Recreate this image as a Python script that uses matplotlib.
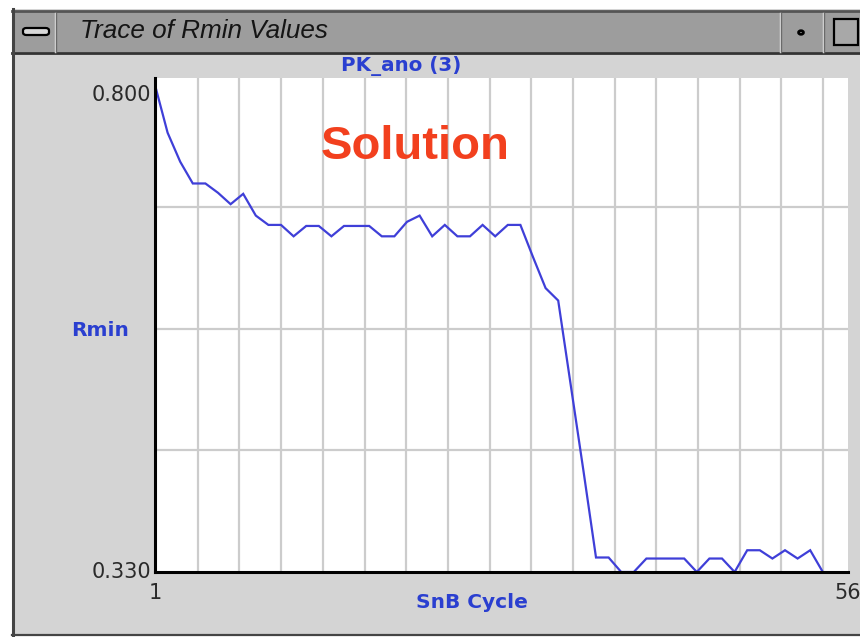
import matplotlib
matplotlib.use("Agg")
import matplotlib.pyplot as plt
from matplotlib.patches import Rectangle, FancyBboxPatch, Circle
from matplotlib.lines import Line2D

# Rmin trace over SnB cycles
cycles = list(range(1, 55))
rmin = [0.800, 0.754, 0.726, 0.705, 0.705, 0.696, 0.685, 0.695, 0.674, 0.665,
        0.665, 0.654, 0.664, 0.664, 0.654, 0.664, 0.664, 0.664, 0.654, 0.654,
        0.668, 0.674, 0.654, 0.665, 0.654, 0.654, 0.665, 0.654, 0.665, 0.665,
        0.634, 0.604, 0.592, 0.510, 0.428, 0.344, 0.344, 0.330, 0.330, 0.343,
        0.343, 0.343, 0.343, 0.330, 0.343, 0.343, 0.330, 0.351, 0.351, 0.343,
        0.351, 0.343, 0.351, 0.330]

y_min, y_max = 0.330, 0.800
x_first, x_last = 1, 56
y_tick_labels = ["0.330", "0.800"]
x_tick_labels = ["1", "56"]

W, H = 860, 637
fig = plt.figure(figsize=(W / 100, H / 100), dpi=100)
fig.patch.set_facecolor("white")


def fx(x):
    return x / W


def fy(y):
    return 1 - y / H


def rect(x0, y0, x1, y1, **kw):
    r = Rectangle((fx(x0), fy(y1)), fx(x1) - fx(x0), fy(y0) - fy(y1),
                  transform=fig.transFigure, **kw)
    fig.add_artist(r)
    return r


def hline(x0, x1, y, **kw):
    fig.add_artist(Line2D([fx(x0), fx(x1)], [fy(y), fy(y)],
                          transform=fig.transFigure, **kw))


def vline(x, y0, y1, **kw):
    fig.add_artist(Line2D([fx(x), fx(x)], [fy(y0), fy(y1)],
                          transform=fig.transFigure, **kw))


# window frame
rect(12, 9, 860, 635, facecolor="#d4d4d4", edgecolor="none", zorder=-10)
rect(13, 12, 860, 52, facecolor="#9d9d9d", edgecolor="none", zorder=-9)
hline(12, 860, 10.5, color="#555555", lw=2.0, zorder=-8)
hline(12, 860, 52.5, color="#333333", lw=2.0, zorder=-8)
vline(12.5, 9, 636, color="#444444", lw=2.2, zorder=-8)
hline(12, 860, 634.5, color="#444444", lw=1.6, zorder=-8)

# title bar buttons
vline(55, 13, 52, color="#e6e6e6", lw=1.0, zorder=-7)
vline(56.3, 13, 52, color="#6a6a6a", lw=1.0, zorder=-7)
pill = FancyBboxPatch((fx(23), fy(35)), fx(49) - fx(23), fy(28) - fy(35),
                      boxstyle="round,pad=0.0,rounding_size=0.004",
                      transform=fig.transFigure, facecolor="#d8d8d8",
                      edgecolor="black", lw=1.6, zorder=-6)
fig.add_artist(pill)
vline(780, 13, 52, color="#e6e6e6", lw=1.0, zorder=-7)
vline(781.3, 13, 52, color="#6a6a6a", lw=1.0, zorder=-7)
vline(823, 13, 52, color="#e6e6e6", lw=1.0, zorder=-7)
vline(824.3, 13, 52, color="#6a6a6a", lw=1.0, zorder=-7)
fig.add_artist(Circle((fx(801), fy(32.5)), 2.4 / W, transform=fig.transFigure,
                      facecolor="#dddddd", edgecolor="black", lw=2.0,
                      zorder=-6))
rect(834, 19, 858, 45, facecolor="#a8a8a8", edgecolor="black", lw=1.6,
     zorder=-6)

fig.text(fx(80), fy(31), "Trace of Rmin Values", fontsize=18.8,
         family="Liberation Sans", style="italic", color="#151515",
         ha="left", va="center")

# plot area
ax = fig.add_axes([fx(155), fy(572), fx(848) - fx(155), fy(78) - fy(572)])
ax.set_facecolor("white")
ax.set_xlim(x_first, x_last)
ax.set_ylim(y_min, y_max + 0.0068)

grid_color = "#cccccc"
n_vgrid = 16
vstep = 3.3095
for k in range(n_vgrid):
    ax.axvline(4.389 + k * vstep, color=grid_color, lw=1.6, zorder=1)
ystep = (y_max - y_min) / 4
for k in range(1, 4):
    ax.axhline(y_min + k * ystep, color=grid_color, lw=1.6, zorder=1)

ax.plot(cycles, rmin, color="#3f3fd8", lw=1.6, zorder=3,
        solid_joinstyle="miter")

for side in ("top", "right"):
    ax.spines[side].set_visible(False)
for side in ("left", "bottom"):
    ax.spines[side].set_color("black")
    ax.spines[side].set_linewidth(2.2)
    ax.spines[side].set_zorder(4)

ax.set_yticks([y_min, y_max])
ax.set_yticklabels(y_tick_labels)
ax.set_xticks([x_first, x_last])
ax.set_xticklabels(x_tick_labels)
ax.tick_params(axis="both", length=0, labelsize=15, labelcolor="#2a2a2a")
ax.tick_params(axis="y", pad=3)
ax.tick_params(axis="x", pad=8)
ylabels = ax.get_yticklabels()
ylabels[0].set_verticalalignment("center")
ylabels[1].set_verticalalignment("top")

blue = "#2a3fd0"
ax.text((401 - 155) / 693, (572 - 66) / 494, "PK_ano (3)",
        transform=ax.transAxes, ha="center", va="center",
        fontsize=14.3, fontweight="bold", color=blue)
ax.text((415 - 155) / 693, (572 - 147) / 494, "Solution",
        transform=ax.transAxes, ha="center", va="center",
        fontsize=34, fontweight="bold", family="Liberation Sans",
        color="#f2401e", zorder=5)

ax.set_ylabel("Rmin", rotation=0, fontsize=14.5, fontweight="bold",
              color=blue, ha="center", va="center")
ax.yaxis.set_label_coords(-(155 - 100) / 693, (572 - 330) / 494)
ax.set_xlabel("SnB Cycle", fontsize=14.5, fontweight="bold", color=blue,
              ha="center", va="center")
ax.xaxis.set_label_coords((472 - 155) / 693, -(603 - 572) / 494)

fig.savefig("out.png", dpi=100, facecolor=fig.get_facecolor())
